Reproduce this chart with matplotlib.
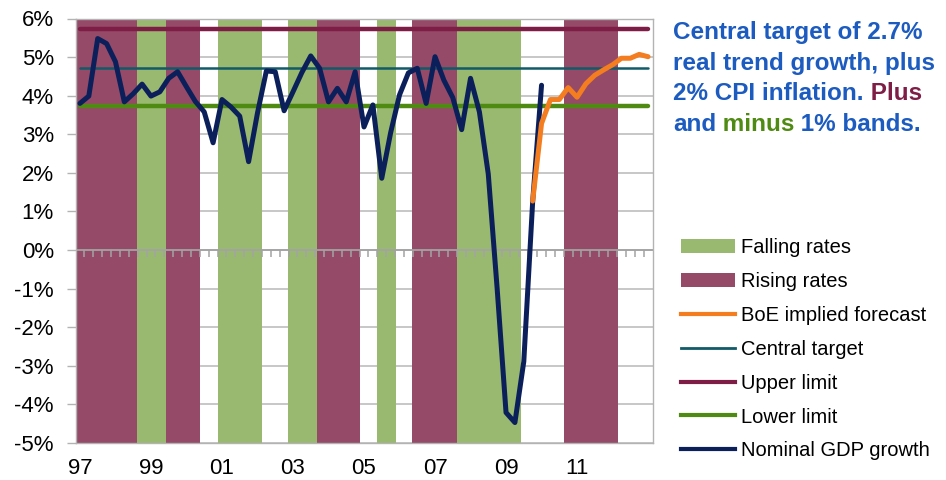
import numpy as np
import matplotlib.pyplot as plt
from matplotlib.patches import Patch
from matplotlib.lines import Line2D

plt.rcParams['font.family'] = ['Liberation Sans', 'DejaVu Sans']

# Nominal GDP growth, % y/y, quarterly from 1997 Q1 to 2010 Q1
gdp_growth = [3.80, 3.99, 5.48, 5.35, 4.88, 3.84, 4.05, 4.30, 3.99, 4.10,
              4.45, 4.62, 4.23, 3.85, 3.58, 2.78, 3.90, 3.71, 3.47, 2.29,
              3.55, 4.64, 4.62, 3.61, 4.10, 4.60, 5.03, 4.71, 3.84, 4.19,
              3.84, 4.62, 3.19, 3.76, 1.86, 3.04, 4.02, 4.59, 4.71, 3.80,
              5.01, 4.40, 3.95, 3.12, 4.45, 3.58, 1.97, -1.00, -4.21, -4.47,
              -2.89, 1.25, 4.27]

# BoE implied path, 2009 Q4 to 2013 Q1
boe_forecast = [1.27, 3.28, 3.90, 3.90, 4.21, 3.96, 4.31, 4.53, 4.67, 4.80,
                4.97, 4.97, 5.07, 5.01]
forecast_start = 2009.75

central_target = 4.73
upper_limit = 5.73
lower_limit = 3.73

# bank rate cycles (decimal years)
rising_periods = [(1996.875, 1998.60), (1999.43, 2000.38), (2003.68, 2004.89),
                  (2006.36, 2007.61), (2010.62, 2012.15)]
falling_periods = [(1998.60, 1999.43), (2000.90, 2002.14), (2002.87, 2003.68),
                   (2005.38, 2005.90), (2007.61, 2009.41)]

year_ticks = [1997, 1999, 2001, 2003, 2005, 2007, 2009, 2011]
year_labels = ['97', '99', '01', '03', '05', '07', '09', '11']

c_rise = '#954A68'
c_fall = '#98B96F'
c_upper = '#7E1E46'
c_central = '#115A67'
c_lower = '#4F8B12'
c_gdp = '#0B1F5B'
c_boe = '#F47D20'
c_text = '#1C5BBF'

fig = plt.figure(figsize=(9.46, 4.8), dpi=100)
ax = fig.add_axes([75.5 / 946, 1 - 443 / 480, 577 / 946, (443 - 18.5) / 480])

x0, x1 = 1996.875, 2013.125
ax.set_xlim(x0, x1)
ax.set_ylim(-5, 6)

for a, b in rising_periods:
    ax.axvspan(a, b, color=c_rise, lw=0, zorder=1)
for a, b in falling_periods:
    ax.axvspan(a, b, color=c_fall, lw=0, zorder=1)

ax.set_yticks(range(-5, 7))
ax.set_yticklabels([f'{v}%' for v in range(-5, 7)])
ax.grid(axis='y', color='#BEBEBE', lw=1.2, zorder=0)
ax.set_axisbelow(True)

# horizontal axis line through zero with quarterly ticks
ax.axhline(0, color='#A3A3A3', lw=1.3, zorder=2)
quarter_edges = x0 + 0.25 * np.arange(1, 65)
ax.vlines(quarter_edges, -0.18, 0, color='#A3A3A3', lw=1.1, zorder=2)

ends = [1997.0, 2013.0]
ax.plot(ends, [upper_limit] * 2, color=c_upper, lw=3.2, solid_capstyle='round', zorder=3)
ax.plot(ends, [central_target] * 2, color=c_central, lw=1.8, solid_capstyle='round', zorder=3)
ax.plot(ends, [lower_limit] * 2, color=c_lower, lw=3.2, solid_capstyle='round', zorder=3)

gdp_x = 1997 + np.arange(len(gdp_growth)) / 4
ax.plot(gdp_x, gdp_growth, color=c_gdp, lw=3.6, solid_capstyle='round',
        solid_joinstyle='round', zorder=4)
boe_x = forecast_start + np.arange(len(boe_forecast)) / 4
ax.plot(boe_x, boe_forecast, color=c_boe, lw=3.6, solid_capstyle='round',
        solid_joinstyle='round', zorder=5)

ax.set_xticks(year_ticks)
ax.set_xticklabels(year_labels)
ax.tick_params(axis='x', length=0, pad=11, labelsize=16)
ax.tick_params(axis='y', length=6.5, width=1, color='#B3B3B3', pad=9, labelsize=16)
for s in ax.spines.values():
    s.set_color('#B3B3B3')
    s.set_linewidth(1)
    s.set_zorder(2.5)

handles = [
    Patch(facecolor=c_fall, edgecolor='none'),
    Patch(facecolor=c_rise, edgecolor='none'),
    Line2D([], [], color=c_boe, lw=3),
    Line2D([], [], color=c_central, lw=2),
    Line2D([], [], color=c_upper, lw=3),
    Line2D([], [], color=c_lower, lw=3),
    Line2D([], [], color=c_gdp, lw=3),
]
labels = ['Falling rates', 'Rising rates', 'BoE implied forecast', 'Central target',
          'Upper limit', 'Lower limit', 'Nominal GDP growth']
fig.legend(handles, labels, loc='upper left', bbox_to_anchor=(681 / 946, 1 - 238 / 480),
           frameon=False, fontsize=14.5, handlelength=2.7, handletextpad=0.3,
           labelspacing=0.74, borderpad=0, borderaxespad=0)

# note in the top right corner
tx = 673 / 946
fs = 17.5
kw = dict(fontsize=fs, fontweight='bold', va='baseline')
fig.text(tx, 1 - 39.5 / 480, 'Central target of 2.7%', color=c_text, **kw)
fig.text(tx, 1 - 70 / 480, 'real trend growth, plus', color=c_text, **kw)
t3 = fig.text(tx, 1 - 100.5 / 480, '2% CPI inflation.', color=c_text, **kw)
ax.annotate(' Plus', xy=(1, 0), xycoords=t3, va='bottom', color=c_upper,
            fontsize=fs, fontweight='bold', annotation_clip=False)
t4 = fig.text(tx, 1 - 131 / 480, 'and', color=c_text, **kw)
t5 = ax.annotate(' minus', xy=(1, 0), xycoords=t4, va='bottom', color=c_lower,
                 fontsize=fs, fontweight='bold', annotation_clip=False)
ax.annotate(' 1% bands.', xy=(1, 0), xycoords=t5, va='bottom', color=c_text,
            fontsize=fs, fontweight='bold', annotation_clip=False)

fig.savefig('out.png', dpi=100)
